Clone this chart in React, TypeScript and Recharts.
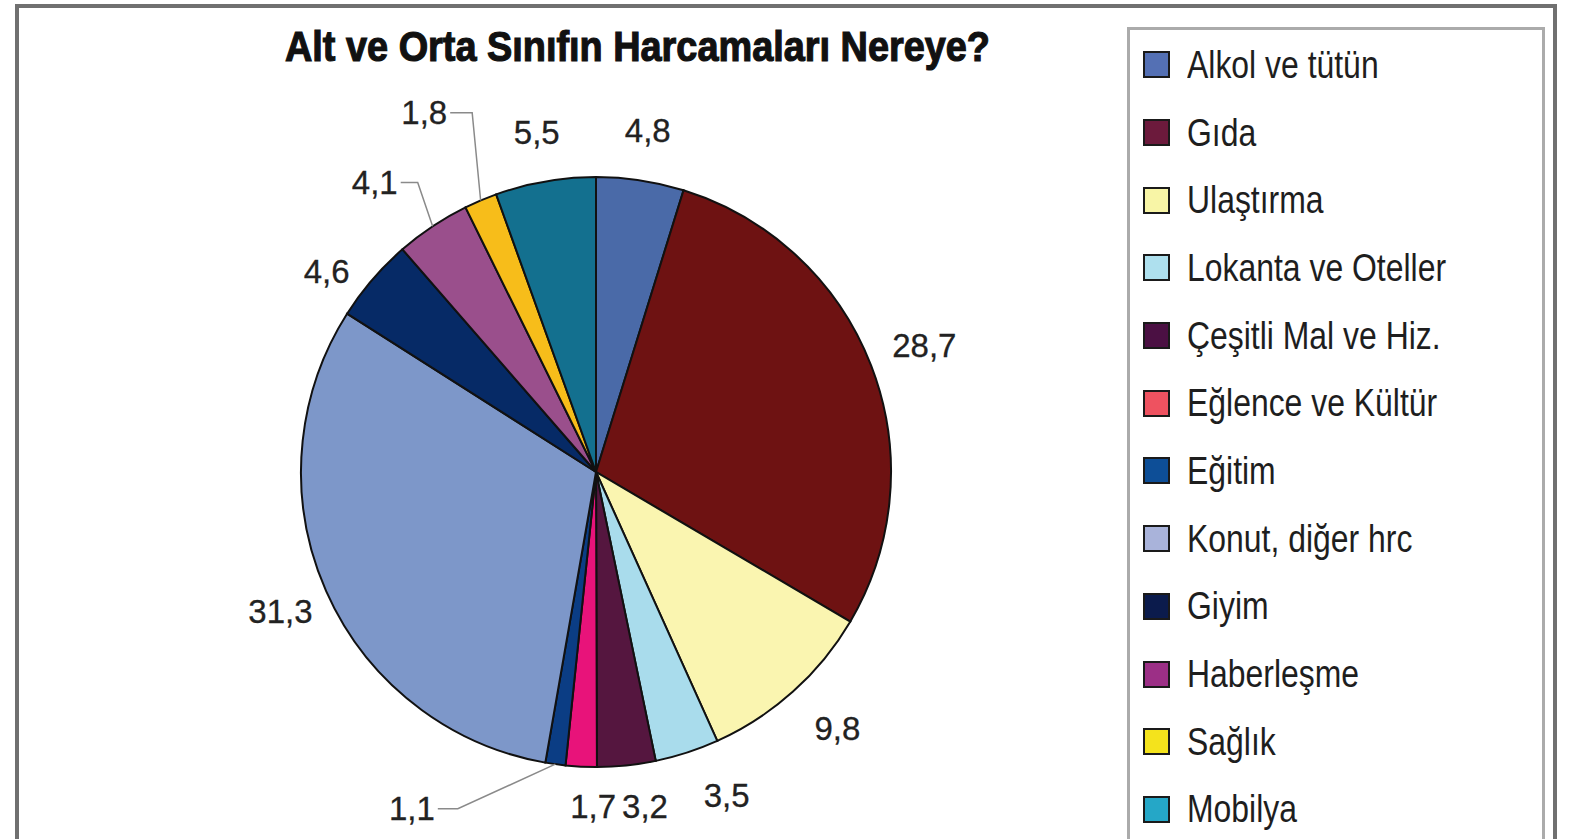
import React from 'react';
import { PieChart, Pie, Cell, Legend } from 'recharts';

// harcama kalemleri (saat yönünde, tepeden başlayarak)
const categories = [
    'Alkol ve tütün',
    'Gıda',
    'Ulaştırma',
    'Lokanta ve Oteller',
    'Çeşitli Mal ve Hiz.',
    'Eğlence ve Kültür',
    'Eğitim',
    'Konut, diğer hrc',
    'Giyim',
    'Haberleşme',
    'Sağlık',
    'Mobilya',
];
const shares = [4.8, 28.7, 9.8, 3.5, 3.2, 1.7, 1.1, 31.3, 4.6, 4.1, 1.8, 5.5];
const valueLabels = ['4,8', '28,7', '9,8', '3,5', '3,2', '1,7', '1,1', '31,3', '4,6', '4,1', '1,8', '5,5'];

const sliceColors = [
    '#4a6aa8', '#6e1212', '#faf5b0', '#a9dcec', '#55163f', '#e8137a',
    '#0b3d84', '#7d97c9', '#062a66', '#9a4f8c', '#f7bd1a', '#13708f',
];
const legendColors = [
    '#5470b4', '#6c1a3c', '#f8f5a6', '#aee0ee', '#4b1043', '#ee5260',
    '#0d4e97', '#a9b3da', '#0b1b4c', '#9c2f86', '#f4e31c', '#25a7c7',
];

const title = 'Alt ve Orta Sınıfın Harcamaları Nereye?';

// küçük dilimler için kılavuz çizgisi (dirsek: yarıçap farkı, açı kayması, kol uzunluğu)
const leaders: Record<string, { dr: number; da: number; arm: number }> = {
    'Eğitim': { dr: 69, da: 14.4, arm: 20 },
    'Haberleşme': { dr: 45, da: 2, arm: 17 },
    'Sağlık': { dr: 85, da: 4, arm: 22 },
};

// etiketlerin ince ayarı (dilim kenarından uzaklık, açı kayması)
const labelNudge: Record<string, { dr: number; da: number }> = {
    'Gıda': { dr: 57, da: 0 },
    'Ulaştırma': { dr: 57, da: 1.4 },
    'Lokanta ve Oteller': { dr: 54, da: 4 },
    'Çeşitli Mal ve Hiz.': { dr: 43, da: 2.4 },
    'Eğlence ve Kültür': { dr: 40, da: 2.4 },
    'Giyim': { dr: 41, da: 4 },
};

const chartData = categories.map((name, i) => ({ name, value: shares[i], label: valueLabels[i] }));

const NUM_FONT = '"Liberation Sans", Arial, sans-serif';
const RAD = Math.PI / 180;

const renderLabel = (props: any) => {
    const { cx, cy, midAngle, outerRadius, index } = props;
    const name = categories[index];
    const text = valueLabels[index];
    const lead = leaders[name];
    if (lead) {
        const x0 = cx + outerRadius * Math.cos(midAngle * RAD);
        const y0 = cy - outerRadius * Math.sin(midAngle * RAD);
        const a = midAngle - lead.da;
        const r1 = outerRadius + lead.dr;
        const x1 = cx + r1 * Math.cos(a * RAD);
        const y1 = cy - r1 * Math.sin(a * RAD);
        const x2 = x1 - lead.arm;
        return (
            <g>
                <polyline points={`${x0},${y0} ${x1},${y1} ${x2},${y1}`} fill="none" stroke="#8a8a8a" strokeWidth={1.5} />
                <text x={x2 - 3} y={y1} textAnchor="end" dominantBaseline="central" fontFamily={NUM_FONT} fontSize={33} fill="#222" stroke="#222" strokeWidth={0.3}>
                    {text}
                </text>
            </g>
        );
    }
    const nudge = labelNudge[name] || { dr: 50, da: 0 };
    const r = outerRadius + nudge.dr;
    const a = midAngle + nudge.da;
    const x = cx + r * Math.cos(a * RAD);
    const y = cy - r * Math.sin(a * RAD);
    return (
        <text x={x} y={y} textAnchor="middle" dominantBaseline="central" fontFamily={NUM_FONT} fontSize={33} fill="#222" stroke="#222" strokeWidth={0.3}>
            {text}
        </text>
    );
};

const renderLegend = () => (
    <div style={{ paddingTop: 1 }}>
        {categories.map((name, i) => (
            <div key={name} style={{ height: 67.7, display: 'flex', alignItems: 'center' }}>
                <span
                    style={{
                        display: 'inline-block',
                        flex: '0 0 auto',
                        width: 23,
                        height: 23,
                        marginLeft: 13,
                        marginRight: 17,
                        background: legendColors[i],
                        border: '2px solid #1a1a1a',
                    }}
                />
                <span
                    style={{
                        display: 'inline-block',
                        fontFamily: NUM_FONT,
                        fontSize: 38,
                        color: '#1e1e1e',
                        lineHeight: 1,
                        whiteSpace: 'nowrap',
                        transform: 'scaleX(0.84)',
                        transformOrigin: 'left center',
                    }}
                >
                    {name}
                </span>
            </div>
        ))}
    </div>
);

export default function App() {
    return (
        <div style={{ position: 'absolute', left: 0, top: 0, width: 1570, height: 839, background: '#fff', overflow: 'hidden' }}>
            <div
                style={{
                    position: 'absolute',
                    left: 15,
                    top: 4,
                    width: 1534,
                    height: 900,
                    border: '4px solid #707070',
                }}
            />
            <svg style={{ position: 'absolute', left: 0, top: 0 }} width={1100} height={80}>
                <text
                    x={285}
                    y={61}
                    textLength={705}
                    lengthAdjust="spacingAndGlyphs"
                    fontFamily={NUM_FONT}
                    fontWeight="bold"
                    fontSize={42}
                    fill="#111"
                    stroke="#111"
                    strokeWidth={1.2}
                >
                    {title}
                </text>
            </svg>
            <div style={{ position: 'absolute', left: 0, top: 0 }}>
                <PieChart width={1570} height={839} margin={{ top: 0, right: 0, bottom: 0, left: 0 }}>
                    <Pie
                        data={chartData}
                        dataKey="value"
                        nameKey="name"
                        cx={596}
                        cy={472}
                        outerRadius={295}
                        startAngle={90}
                        endAngle={-270}
                        stroke="#111"
                        strokeWidth={2}
                        label={renderLabel}
                        labelLine={false}
                        isAnimationActive={false}
                    >
                        {chartData.map((d, i) => (
                            <Cell key={d.name} fill={sliceColors[i]} />
                        ))}
                    </Pie>
                    <Legend
                        layout="vertical"
                        align="right"
                        verticalAlign="top"
                        content={renderLegend}
                        wrapperStyle={{
                            left: 1127,
                            top: 27,
                            width: 418,
                            height: 850,
                            border: '3px solid #ababab',
                            background: '#fff',
                            boxSizing: 'border-box',
                        }}
                    />
                </PieChart>
            </div>
        </div>
    );
}
